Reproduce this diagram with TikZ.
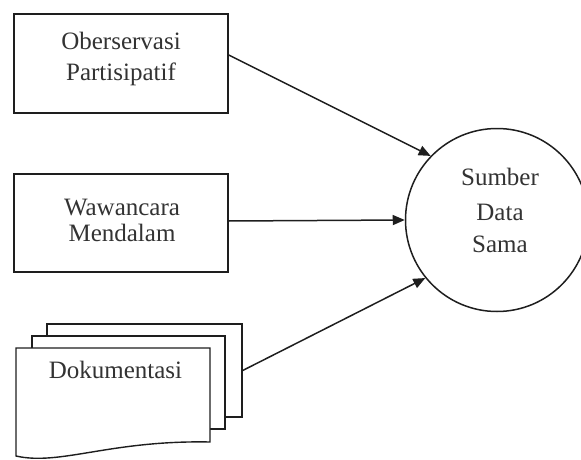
\documentclass[tikz,border=0pt]{standalone}
\usepackage{fontspec}
\setmainfont{Liberation Serif}
\usetikzlibrary{arrows.meta}
\definecolor{ink}{HTML}{1E1E1E}
\definecolor{txtc}{HTML}{333333}
\tikzset{
  boxshape/.style={draw=ink, line width=1.6pt, rectangle, inner sep=0pt, fill=white},
  lbl/.style={anchor=base, text=txtc, inner sep=0pt, font=\fontsize{25}{32}\selectfont},
  conn/.style={draw=ink, line width=1.5pt, -{Triangle[length=12pt,width=10pt]}},
  docpage/.style={draw=ink, line width=1.4pt, fill=white},
}
\begin{document}
\begin{tikzpicture}[x=1pt,y=-1pt]
\useasboundingbox (0,0) rectangle (581,460);
% boxes
\node[boxshape, minimum width=214pt, minimum height=99pt] (obs) at (121,63.5) {};
\node[lbl] (obs1) at (121,50) {Oberservasi};
\node[lbl] (obs2) at (121,81) {Partisipatif};
\node[boxshape, minimum width=214pt, minimum height=98pt] (ww) at (121,223) {};
\node[lbl] (ww1) at (122,215) {Wawancara};
\node[lbl] (ww2) at (122,241) {Mendalam};
% circle
\node[circle, draw=ink, line width=1.5pt, minimum size=183pt, inner sep=0pt] (sum) at (497,220) {};
\node[lbl] (s1) at (500,185) {Sumber};
\node[lbl] (s2) at (500,220) {Data};
\node[lbl] (s3) at (500,252) {Sama};
% documents
\node[boxshape, line width=1.4pt, minimum width=195pt, minimum height=93pt] (docc) at (144.5,370.5) {};
\node[boxshape, line width=1.4pt, minimum width=193pt, minimum height=93pt] (docb) at (128.5,382.5) {};
\path[docpage] (16,348) -- (210,348) -- (210,442)
  .. controls (110,440) and (60,466) .. (16,456) -- cycle;
\node[lbl] (doc) at (115.5,378) {Dokumentasi};
% connectors
\draw[conn] ([yshift=8.5pt]obs.east) -- (sum.136);
\draw[conn] ([yshift=2pt]ww.east) -- (sum.west);
\draw[conn] (docc.east) -- (sum.219);
\end{tikzpicture}
\end{document}
